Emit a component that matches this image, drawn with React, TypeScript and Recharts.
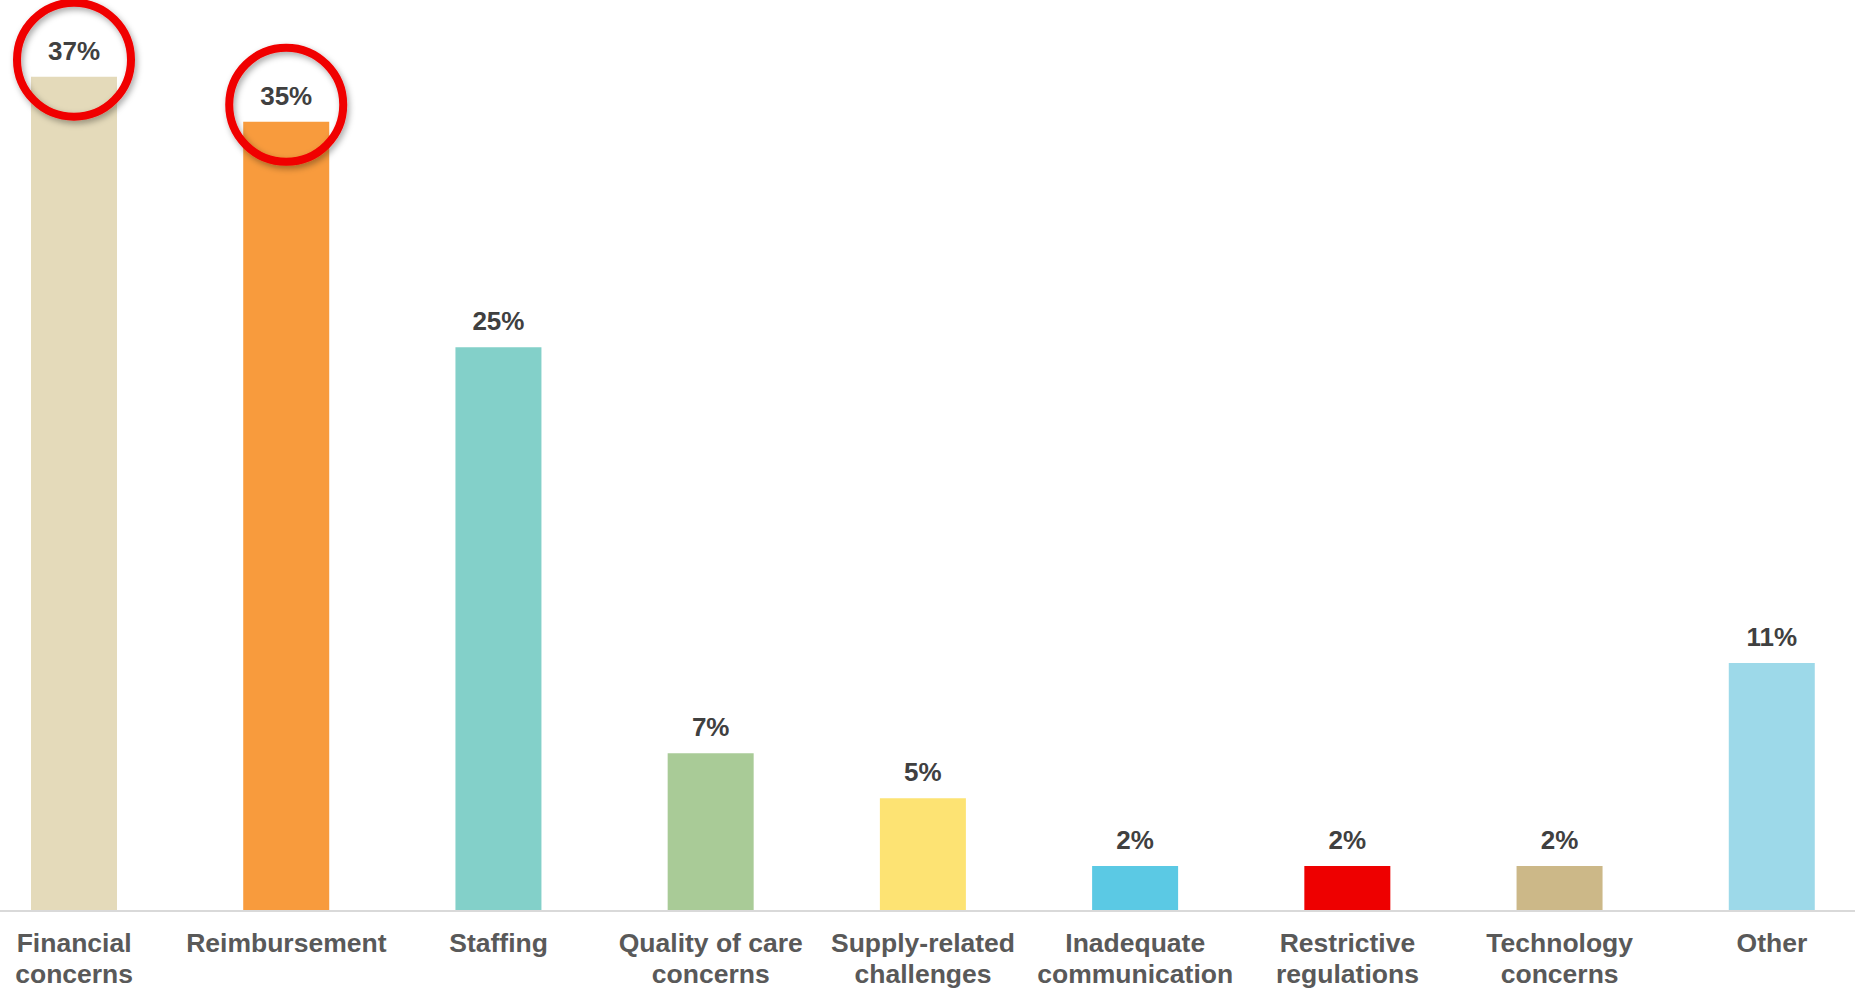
import { BarChart, Bar, XAxis, YAxis, Cell, LabelList } from 'recharts';

const categories = [
  'Financial\nconcerns',
  'Reimbursement',
  'Staffing',
  'Quality of care\nconcerns',
  'Supply-related\nchallenges',
  'Inadequate\ncommunication',
  'Restrictive\nregulations',
  'Technology\nconcerns',
  'Other',
];

const shares = [37, 35, 25, 7, 5, 2, 2, 2, 11];

const barColors = [
  '#E4DABA',
  '#F89B3D',
  '#83D0C9',
  '#A9CB97',
  '#FDE373',
  '#5BC9E4',
  '#EE0000',
  '#CCB888',
  '#9DD9E9',
];

// the two bars circled in red on the slide
const circled = [true, true, false, false, false, false, false, false, false];

const data = categories.map((name, i) => ({
  name,
  value: shares[i],
  color: barColors[i],
  circled: circled[i],
}));

const FONT = '"Liberation Sans", Arial, sans-serif';

const CategoryTick = (props: any) => {
  const { x, y, payload } = props;
  const lines = String(payload.value).split('\n');
  return (
    <g transform={`translate(${x},${y})`}>
      {lines.map((line, i) => (
        <text
          key={i}
          x={0}
          y={33 + i * 31}
          textAnchor="middle"
          fill="#595959"
          fontSize={26.5}
          fontWeight={700}
          fontFamily={FONT}
        >
          {line}
        </text>
      ))}
    </g>
  );
};

const ValueLabel = (props: any) => {
  const { x, y, width, value, index } = props;
  const cx = x + width / 2;
  return (
    <g>
      <text
        x={cx}
        y={y - 17}
        textAnchor="middle"
        fill="#404040"
        fontSize={26}
        fontWeight={700}
        fontFamily={FONT}
      >
        {`${value}%`}
      </text>
      {circled[index] && (
        <circle
          cx={cx}
          cy={y - 17}
          r={57}
          fill="none"
          stroke="#F00000"
          strokeWidth={8}
          filter="url(#ringShadow)"
        />
      )}
    </g>
  );
};

export default function App() {
  return (
    <div
      style={{
        position: 'absolute',
        left: 0,
        top: 0,
        width: 1855,
        height: 996,
        overflow: 'hidden',
        background: '#fff',
      }}
    >
      <div style={{ marginLeft: -32 }}>
        <BarChart
          width={1910}
          height={996}
          data={data}
          margin={{ top: 9, right: 0, left: 0, bottom: 0 }}
          barSize={86}
        >
          <defs>
            <filter id="ringShadow" x="-30%" y="-30%" width="160%" height="160%">
              <feDropShadow dx="2" dy="3" stdDeviation="3" floodColor="#000" floodOpacity="0.35" />
            </filter>
          </defs>
          <XAxis
            dataKey="name"
            interval={0}
            height={85}
            tickLine={false}
            axisLine={{ stroke: '#D9D9D9', strokeWidth: 2 }}
            tick={<CategoryTick />}
          />
          <YAxis hide domain={[0, 40]} allowDataOverflow />
          <Bar dataKey="value" isAnimationActive={false}>
            {data.map((d) => (
              <Cell key={d.name} fill={d.color} />
            ))}
            <LabelList dataKey="value" content={<ValueLabel />} />
          </Bar>
        </BarChart>
      </div>
    </div>
  );
}
